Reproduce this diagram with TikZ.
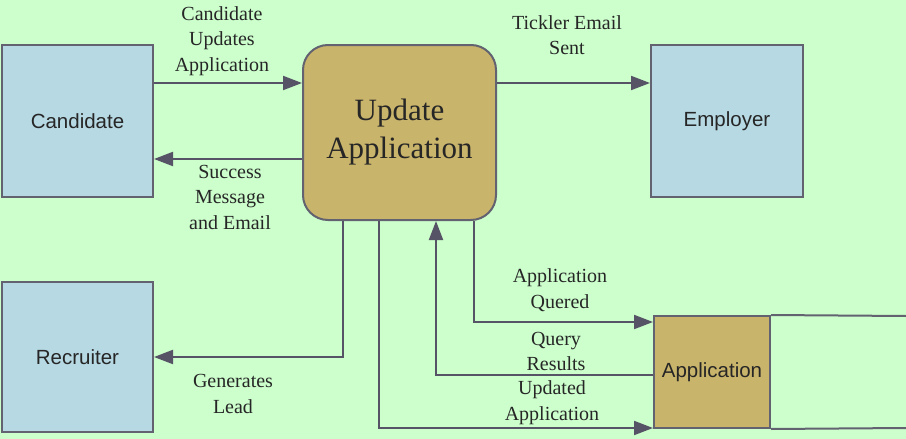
\documentclass[tikz,border=0pt]{standalone}
\usepackage{fontspec}
\setmainfont{Liberation Serif}
\newfontfamily\boxfont{Liberation Sans}
\usetikzlibrary{arrows.meta}
\definecolor{bgcol}{HTML}{CCFFCC}
\definecolor{bluebox}{HTML}{B7D9E3}
\definecolor{tanbox}{HTML}{C9B46B}
\definecolor{edgecol}{HTML}{626270}
\definecolor{flowcol}{HTML}{575366}
\definecolor{txtcol}{HTML}{262626}
\tikzset{
  entity/.style={draw=edgecol, line width=2pt, fill=bluebox, inner sep=0pt,
    font=\boxfont\fontsize{20.5}{24}\selectfont, text=txtcol},
  proc/.style={draw=edgecol, line width=2pt, fill=tanbox, rounded corners=25pt, inner sep=0pt,
    font=\fontsize{31}{38}\selectfont, text=txtcol, align=center},
  store/.style={draw=edgecol, line width=2pt, fill=tanbox, inner sep=0pt,
    font=\boxfont\fontsize{20.5}{24}\selectfont, text=txtcol},
  flow/.style={draw=flowcol, line width=2pt, -{Triangle[length=19pt,width=14pt]}},
  lbl/.style={align=center, inner sep=0pt, text=txtcol, font=\fontsize{20}{25.5}\selectfont},
}
\begin{document}
\begin{tikzpicture}[x=1pt, y=-1pt]
\fill[bgcol] (0,0) rectangle (906,439);
\useasboundingbox (0,0) rectangle (906,439);

\node[entity, minimum width=151pt, minimum height=152pt] (cand) at (77.5,121) {Candidate};
\node[proc, minimum width=193pt, minimum height=175pt] (upd) at (399.5,132.5) {Update\\Application};
\node[entity, minimum width=152pt, minimum height=152pt] (emp) at (727,121) {Employer};
\node[entity, minimum width=151pt, minimum height=150pt] (rec) at (77.5,357) {Recruiter};
\node[store, minimum width=116pt, minimum height=112pt] (app) at (712,372) {Application};

\coordinate (storeTop) at (906,316);
\coordinate (storeBot) at (906,428);
\draw[edgecol, line width=2pt] (app.north east) -- (storeTop);
\draw[edgecol, line width=2pt] (app.south east) -- (storeBot);

\draw[flow] (cand.east |- 0,83) -- (upd.west |- 0,83);
\draw[flow] (upd.west |- 0,159) -- (cand.east |- 0,159);
\draw[flow] (upd.east |- 0,83) -- (emp.west |- 0,83);
\draw[flow] (upd.south -| 343,0) |- (rec.east |- 0,357);
\draw[flow] (upd.south -| 474,0) |- (app.west |- 0,322);
\draw[flow] (app.west |- 0,375) -| (upd.south -| 436,0);
\draw[flow] (upd.south -| 379,0) |- (app.west |- 0,428);

\node[lbl] (l1) at (222,41) {Candidate\\Updates\\Application};
\node[lbl] (l2) at (230,197) {Success\\Message\\and Email};
\node[lbl] (l3) at (567,35) {Tickler Email\\Sent};
\node[lbl] (l4) at (233,394) {Generates\\Lead};
\node[lbl] (l5) at (560,290) {Application\\Quered};
\node[lbl] (l6) at (556,351.5) {Query\\Results};
\node[lbl] (l7) at (552,402.5) {Updated\\Application};
\end{tikzpicture}
\end{document}
